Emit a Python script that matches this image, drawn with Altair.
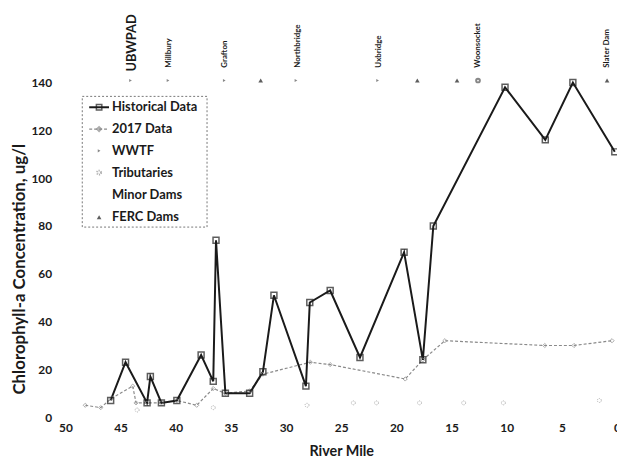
import altair as alt
import pandas as pd

# ---- data ----
hist_mile = [45.9, 44.55, 42.6, 42.3, 41.3, 39.9, 37.7, 36.6, 36.35, 35.5, 33.3, 32.1,
             31.1, 28.2, 27.85, 26.0, 23.3, 19.3, 17.6, 16.65, 10.15, 6.5, 4.0, 0.2]
hist_val = [7, 23, 6, 17, 6, 7, 26, 15, 74, 10, 10, 19,
            51, 13, 48, 53, 25, 69, 24, 80, 138, 116, 140, 111]

d17_mile = [48.2, 46.8, 45.8, 43.9, 43.6, 42.6, 41.3, 39.9, 38.1, 36.6, 35.5, 33.3,
            32.1, 27.8, 26.0, 19.2, 17.6, 15.6, 6.55, 3.9, 0.45]
d17_val = [5, 4, 8, 13, 6, 6, 6, 7, 5, 12, 10, 11,
           18, 23, 22, 16, 24, 32, 30, 30, 32]

town_names = ["UBWPAD", "Millbury", "Grafton", "Northbridge", "Uxbridge", "Woonsocket", "Slater Dam"]
town_miles = [44.0, 40.6, 35.5, 28.9, 21.6, 12.6, 0.9]

wwtf_miles = [44.1, 40.7, 35.6, 29.1, 21.7]
ferc_miles = [32.3, 18.1, 14.5, 0.9]
trib_top_miles = [12.6]
trib_miles = [43.5, 36.6, 28.1, 23.9, 21.8, 17.9, 13.9, 10.3, 1.6]
trib_vals = [3, 4, 5, 6, 6, 6, 6, 6, 7]

legend_labels = ["Historical Data", "2017 Data", "WWTF", "Tributaries", "Minor Dams", "FERC Dams"]

FONT = "Lato"
DARK = "#1a1a1a"
GRAY = "#8a8a8a"

hist = pd.DataFrame({"mile": hist_mile, "val": hist_val})
d17 = pd.DataFrame({"mile": d17_mile, "val": d17_val})
towns = pd.DataFrame({"mile": town_miles, "name": town_names})
wwtf = pd.DataFrame({"mile": wwtf_miles})
ferc = pd.DataFrame({"mile": ferc_miles})
trib_top = pd.DataFrame({"mile": trib_top_miles})
trib = pd.DataFrame({"mile": trib_miles, "val": trib_vals})

X = alt.X("mile:Q", scale=alt.Scale(domain=[0, 50], reverse=True, nice=False),
          axis=alt.Axis(values=list(range(0, 51, 5)), title="River Mile", grid=False,
                        domain=False, ticks=False, labelPadding=5, titlePadding=12,
                        labelFont=FONT, labelFontWeight="bold", labelFontSize=12,
                        labelColor=DARK, titleFont=FONT, titleFontWeight="bold",
                        titleFontSize=14.5, titleColor=DARK, labelFlush=False,
                        labelOverlap=False))
Y = alt.Y("val:Q", scale=alt.Scale(domain=[0, 140], nice=False),
          axis=alt.Axis(values=list(range(0, 141, 20)), title="Chlorophyll-a Concentration, ug/l",
                        grid=False, domain=False, ticks=False, labelPadding=14, titlePadding=2,
                        labelFont=FONT, labelFontWeight="bold", labelFontSize=12,
                        labelColor=DARK, titleFont=FONT, titleFontWeight="bold",
                        titleFontSize=17, titleColor=DARK, titleY=188))

hist_line = alt.Chart(hist).mark_line(color=DARK, strokeWidth=2).encode(x=X, y=Y)
hist_pts = alt.Chart(hist).mark_point(shape="square", filled=False, color=DARK,
                                      size=36, strokeWidth=1.5).encode(x=X, y=Y)
d17_line = alt.Chart(d17).mark_line(color=GRAY, strokeWidth=1.2, strokeDash=[3, 2]).encode(x=X, y=Y)
d17_pts = alt.Chart(d17).mark_point(shape="diamond", filled=False, color=GRAY,
                                    size=18, strokeWidth=1).encode(x=X, y=Y)
trib_pts = alt.Chart(trib).mark_point(shape="circle", filled=False, color=GRAY,
                                      size=16, strokeWidth=1, strokeDash=[1, 1]).encode(x=X, y=Y)

ubw_text = alt.Chart(towns.iloc[:1]).mark_text(angle=270, align="left", baseline="middle",
                                               font=FONT, fontWeight="bold", fontSize=13,
                                               color=DARK).encode(
    x=X, y=alt.value(-11), text="name:N")
town_text = alt.Chart(towns.iloc[1:]).mark_text(angle=270, align="left", baseline="middle",
                                                font=FONT, fontWeight="bold", fontSize=8,
                                                color=DARK).encode(
    x=X, y=alt.value(-15), text="name:N")

wwtf_pts = alt.Chart(wwtf).mark_point(shape="triangle-right", filled=True, color="#555",
                                      size=10).encode(x=X, y=alt.value(-2))
ferc_pts = alt.Chart(ferc).mark_point(shape="triangle-up", filled=True, color=DARK,
                                      size=22).encode(x=X, y=alt.value(-2))
trib_top_pts = alt.Chart(trib_top).mark_point(shape="circle", filled=False, color="#555",
                                              size=14).encode(x=X, y=alt.value(-2))

# ---- manual legend ----
one = pd.DataFrame({"a": [0]})
box = alt.Chart(one).mark_rect(fill="white", stroke="#777", strokeWidth=1,
                               strokeDash=[2, 2]).encode(
    x=alt.value(17), x2=alt.value(143), y=alt.value(14), y2=alt.value(146))
leg_y = [25, 47, 69, 91, 114, 136]
leg_layers = [box]
for lab, yy in zip(legend_labels, leg_y):
    leg_layers.append(alt.Chart(pd.DataFrame({"t": [lab]})).mark_text(
        align="left", baseline="middle", font=FONT, fontWeight="bold", fontSize=13,
        color=DARK).encode(x=alt.value(47), y=alt.value(yy), text="t:N"))
leg_layers.append(alt.Chart(one).mark_rule(color=DARK, strokeWidth=2).encode(
    x=alt.value(24), x2=alt.value(44), y=alt.value(leg_y[0])))
leg_layers.append(alt.Chart(one).mark_point(shape="square", filled=False, color=DARK,
                                            size=30, strokeWidth=1.5).encode(
    x=alt.value(34), y=alt.value(leg_y[0])))
leg_layers.append(alt.Chart(one).mark_rule(color=GRAY, strokeWidth=1.2, strokeDash=[3, 2]).encode(
    x=alt.value(24), x2=alt.value(44), y=alt.value(leg_y[1])))
leg_layers.append(alt.Chart(one).mark_point(shape="diamond", filled=False, color=GRAY,
                                            size=16).encode(
    x=alt.value(34), y=alt.value(leg_y[1])))
leg_layers.append(alt.Chart(one).mark_point(shape="triangle-right", filled=True, color="#555",
                                            size=10).encode(
    x=alt.value(34), y=alt.value(leg_y[2])))
leg_layers.append(alt.Chart(one).mark_point(shape="circle", filled=False, color=GRAY,
                                            size=16, strokeDash=[1, 1]).encode(
    x=alt.value(34), y=alt.value(leg_y[3])))
leg_layers.append(alt.Chart(one).mark_point(shape="triangle-up", filled=True, color=DARK,
                                            size=22).encode(
    x=alt.value(34), y=alt.value(leg_y[5])))

chart = alt.layer(
    d17_line, hist_line, trib_pts, d17_pts, hist_pts,
    ubw_text, town_text, wwtf_pts, ferc_pts, trib_top_pts,
    *leg_layers
).properties(
    width=557, height=338,
    autosize=alt.AutoSizeParams(type="none"),
    padding={"left": 58, "top": 73, "right": 0, "bottom": 45},
    background="white"
).configure_view(stroke=None)

chart.save("out.html", embed_options={"renderer": "svg", "actions": False})
